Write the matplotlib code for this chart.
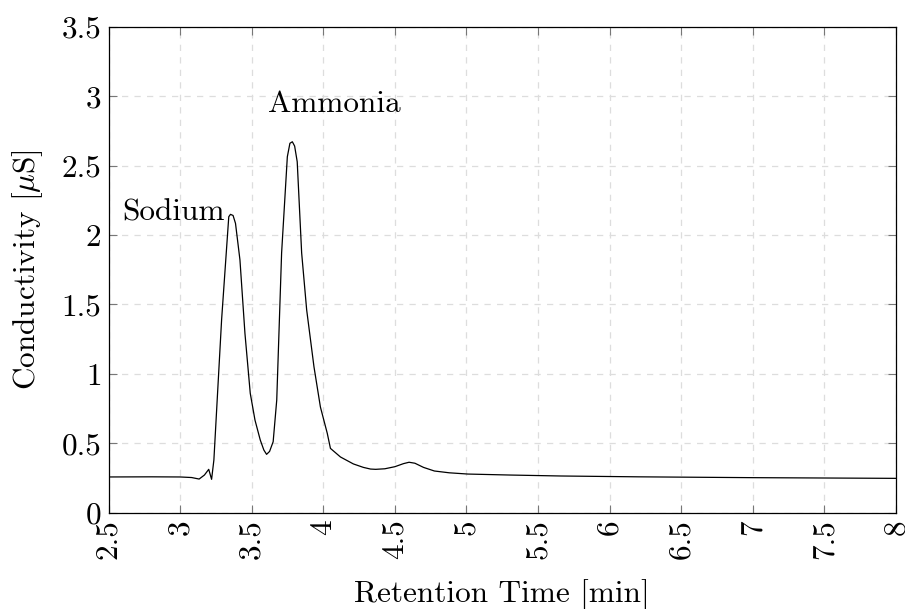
import matplotlib
matplotlib.use("Agg")
import matplotlib.pyplot as plt

plt.rcParams['font.family'] = ['cmr10']
plt.rcParams['mathtext.fontset'] = 'cm'
plt.rcParams['axes.formatter.use_mathtext'] = True

time = [2.5, 2.8, 3.0, 3.08, 3.133, 3.17, 3.2, 3.22, 3.236, 3.29, 3.34, 3.352, 3.37, 3.387,
        3.418, 3.453, 3.49, 3.523, 3.56, 3.585, 3.604, 3.625, 3.65, 3.675, 3.709, 3.749, 3.767,
        3.784, 3.8, 3.818, 3.849, 3.884, 3.935, 3.98, 4.028, 4.05, 4.12, 4.21, 4.28, 4.33,
        4.366, 4.43, 4.5, 4.56, 4.599, 4.64, 4.7, 4.776, 4.88, 5.01, 5.3, 5.66, 6.2, 7.0, 8.0]
conductivity = [0.256, 0.257, 0.256, 0.252, 0.241, 0.27, 0.311, 0.239, 0.378, 1.39, 2.131,
                2.148, 2.14, 2.083, 1.82, 1.29, 0.859, 0.666, 0.522, 0.45, 0.419, 0.44, 0.51,
                0.81, 1.87, 2.563, 2.66, 2.671, 2.64, 2.527, 1.87, 1.46, 1.05, 0.76, 0.57,
                0.462, 0.40, 0.35, 0.325, 0.313, 0.311, 0.315, 0.33, 0.352, 0.362, 0.355,
                0.325, 0.299, 0.286, 0.277, 0.27, 0.263, 0.257, 0.251, 0.246]

xticks = [2.5, 3, 3.5, 4, 4.5, 5, 5.5, 6, 6.5, 7, 7.5, 8]
xticklabels = ['2.5', '3', '3.5', '4', '4.5', '5', '5.5', '6', '6.5', '7', '7.5', '8']
yticks = [0, 0.5, 1, 1.5, 2, 2.5, 3, 3.5]
yticklabels = ['0', '0.5', '1', '1.5', '2', '2.5', '3', '3.5']

fs = 22.5

fig = plt.figure(figsize=(9.05, 6.09), dpi=100)
ax = fig.add_axes([108.5/905, 1 - 512.5/609, (896-108.5)/905, (512.5-26.7)/609])

ax.plot(time, conductivity, color='black', lw=0.9)
ax.set_xlim(2.5, 8)
ax.set_ylim(0, 3.5)
ax.set_xticks(xticks)
ax.set_xticklabels(xticklabels, rotation=90)
ax.set_yticks(yticks)
ax.set_yticklabels(yticklabels)
ax.tick_params(direction='in', length=6, width=0.8, color='#777777', labelsize=fs,
               top=True, right=True, pad=5)
ax.grid(True, linestyle=(0, (5, 5)), color='#dddddd', lw=0.9)
for s in ax.spines.values():
    s.set_linewidth(0.9)

ax.text(3.314, 2.107, 'Sodium', ha='right', va='baseline', fontsize=fs)
ax.text(4.078, 2.883, 'Ammonia', ha='center', va='baseline', fontsize=fs)

ax.set_xlabel('Retention Time [min]', fontsize=fs, labelpad=14)
ax.set_ylabel(r'Conductivity [$\mu$S]', fontsize=fs, labelpad=12)

fig.savefig('out.png', dpi=100)
